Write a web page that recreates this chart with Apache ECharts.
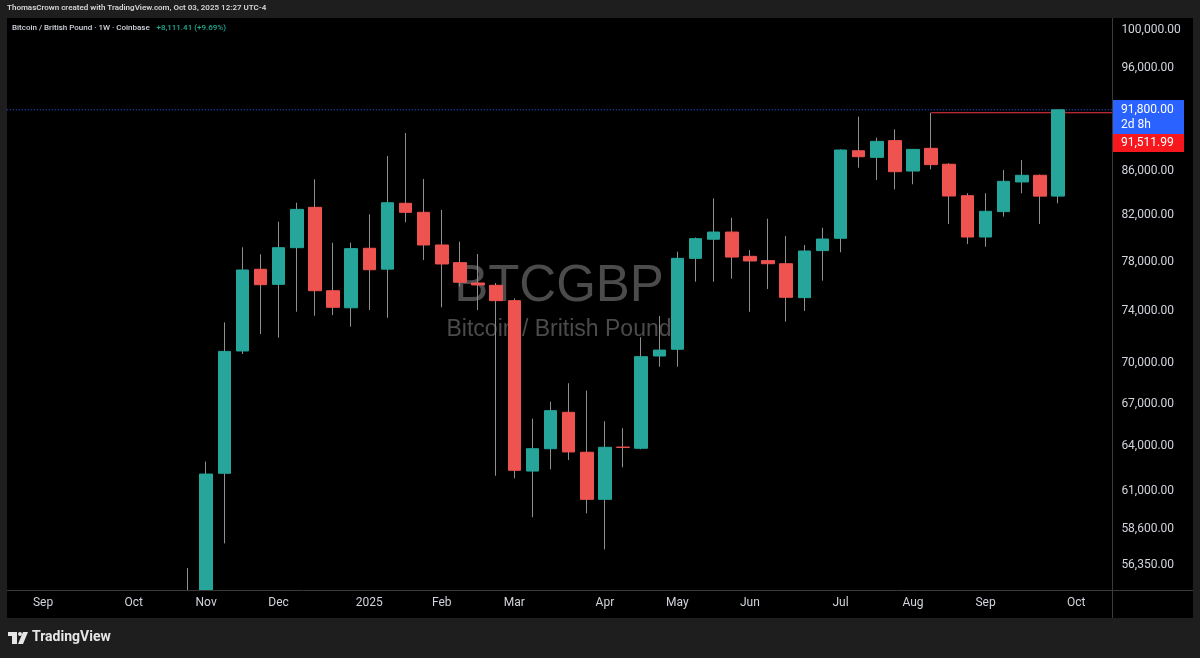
<!DOCTYPE html>
<html>
<head>
<meta charset="utf-8">
<script src="https://cdn.jsdelivr.net/npm/echarts@6/dist/echarts.min.js"></script>
<style>
  html, body { margin: 0; padding: 0; background: #1e1e1e; }
  #panel { position: absolute; left: 7px; top: 18px; width: 1186px; height: 600px; background: #000; }
  #chart { position: absolute; left: 0; top: 0; width: 1200px; height: 658px; }
</style>
</head>
<body>
<div id="panel"></div>
<div id="chart"></div>
<script>
// weekly bars (Monday of each week) shown on the time axis
const weeks = [
  '2024-08-19', '2024-08-26', '2024-09-02', '2024-09-09', '2024-09-16', '2024-09-23', '2024-09-30',
  '2024-10-07', '2024-10-14', '2024-10-21', '2024-10-28', '2024-11-04', '2024-11-11', '2024-11-18',
  '2024-11-25', '2024-12-02', '2024-12-09', '2024-12-16', '2024-12-23', '2024-12-30', '2025-01-06',
  '2025-01-13', '2025-01-20', '2025-01-27', '2025-02-03', '2025-02-10', '2025-02-17', '2025-02-24',
  '2025-03-03', '2025-03-10', '2025-03-17', '2025-03-24', '2025-03-31', '2025-04-07', '2025-04-14',
  '2025-04-21', '2025-04-28', '2025-05-05', '2025-05-12', '2025-05-19', '2025-05-26', '2025-06-02',
  '2025-06-09', '2025-06-16', '2025-06-23', '2025-06-30', '2025-07-07', '2025-07-14', '2025-07-21',
  '2025-07-28', '2025-08-04', '2025-08-11', '2025-08-18', '2025-08-25', '2025-09-01', '2025-09-08',
  '2025-09-15', '2025-09-22', '2025-09-29', '2025-10-06', '2025-10-13', '2025-10-20'
]

// first week that has a candle in view
const firstCandleWeek = '2024-10-28'

const opens = [
  52950, 53600, 62180, 70890, 77380, 76140, 79190, 82690, 75620, 74250,
  79140, 77390, 83050, 82250, 79420, 77930, 76250, 76060, 74820, 62330,
  63840, 66380, 63600, 60470, 63950, 63870, 70510, 71020, 78290, 79910,
  80530, 78460, 78100, 77840, 75060, 78940, 79990, 87860, 87240, 88820,
  85970, 88090, 86600, 83730, 80100, 82310, 84970, 85580, 83690
]
const closes = [
  53600, 62130, 70860, 77320, 76110, 79190, 82510, 75620, 74290, 79110,
  77340, 83100, 82250, 79420, 77820, 76310, 76090, 74820, 62380, 63840,
  66500, 63620, 60470, 63940, 63930, 70460, 70960, 78290, 79960, 80530,
  78400, 78070, 77840, 75090, 78910, 79930, 87930, 87300, 88750, 85910,
  87990, 86560, 83700, 80100, 82340, 85030, 85580, 83688.59, 91800
]
const lows = [
  51900, 52600, 57680, 70660, 72190, 71910, 73940, 73620, 73670, 72760,
  74080, 73460, 81380, 78150, 74290, 75950, 74080, 62020, 61850, 59320,
  62450, 63070, 59570, 57310, 62580, 63800, 69700, 69700, 76350, 76350,
  76600, 73940, 75760, 73150, 74000, 76440, 78800, 86280, 85150, 84300,
  84760, 86130, 81230, 79500, 79270, 81870, 83950, 81230, 83050
]
const highs = [
  56180, 62960, 73100, 79220, 78630, 81420, 83100, 85210, 79610, 79610,
  82080, 87370, 89550, 85240, 82460, 79700, 78660, 76250, 75010, 65930,
  67140, 68480, 67940, 65750, 65260, 71940, 73600, 78850, 80060, 83490,
  81770, 78990, 81690, 80190, 79420, 80900, 87990, 91130, 89100, 89900,
  88000, 91511.99, 86700, 83950, 83950, 86060, 87000, 85650, 91850
]

const priceTicks = [100000, 96000, 86000, 82000, 78000, 74000, 70000, 67000, 64000, 61000, 58600, 56350]
const monthNames = ['2025', 'Feb', 'Mar', 'Apr', 'May', 'Jun', 'Jul', 'Aug', 'Sep', 'Oct', 'Nov', 'Dec']

const lastPrice = 91800
const rayPrice = 91511.99
const rayStartWeek = '2025-08-11'
const countdown = '2d 8h'

const priceMin = 54870
const priceMax = 101294

const upColor = '#26a69a'
const downColor = '#ef5350'
const wickColor = '#8f8f8f'
const textColor = '#d1d4dc'
const lineColor = '#3a3a3a'
const font = 'Roboto, "Noto Sans", sans-serif'

const fmtPrice = (v) =>
  v.toLocaleString('en-US', { minimumFractionDigits: 2, maximumFractionDigits: 2 })

// log price scale: plot ln(price) on a linear axis
const lg = Math.log
const offset = weeks.indexOf(firstCandleWeek)
const wickData = weeks.map((w, i) => {
  const k = i - offset
  if (k < 0 || k >= opens.length) return '-'
  return [lg(opens[k]), lg(closes[k]), lg(lows[k]), lg(highs[k])]
})
const bodyData = weeks.map((w, i) => {
  const k = i - offset
  if (k < 0 || k >= opens.length) return '-'
  const o = lg(opens[k])
  const c = lg(closes[k])
  return [o, c, Math.min(o, c), Math.max(o, c)]
})
const lastWeek = weeks[weeks.length - 1]

const monthLabel = (v) => {
  const [y, m, d] = v.split('-').map(Number)
  if (d > 7) return ''
  if (m === 1) return String(y)
  return monthNames[m - 1]
}

const chart = echarts.init(document.getElementById('chart'))

const baseGraphics = [
  // covers so candles leaving the price pane are cut at its lower edge
  { type: 'rect', z: 10, shape: { x: 7, y: 591, width: 1105, height: 27 }, style: { fill: '#000' } },
  { type: 'rect', z: 10, shape: { x: 0, y: 618, width: 1200, height: 40 }, style: { fill: '#1e1e1e' } },
  { type: 'line', z: 11, shape: { x1: 7, y1: 590.5, x2: 1193, y2: 590.5 }, style: { stroke: lineColor, lineWidth: 1 } },
  { type: 'line', z: 11, shape: { x1: 1112.5, y1: 18, x2: 1112.5, y2: 618 }, style: { stroke: lineColor, lineWidth: 1 } },
  {
    type: 'text', left: 7, top: 4,
    style: { text: 'ThomasCrown created with TradingView.com, Oct 03, 2025 12:27 UTC-4', fill: '#d6d6d6', font: '600 8px ' + font }
  },
  {
    type: 'text', left: 12, top: 22,
    style: {
      text: '{a|Bitcoin / British Pound · 1W · Coinbase}  {b|+8,111.41 (+9.69%)}',
      rich: {
        a: { fill: textColor, font: '500 8px ' + font },
        b: { fill: '#22ab94', font: '500 8px ' + font }
      }
    }
  },
  {
    type: 'text', z: -10, x: 559, y: 287,
    style: { text: 'BTCGBP', fill: '#4b4b4b', font: '51px "Liberation Sans", Arial, sans-serif', align: 'center', verticalAlign: 'middle' }
  },
  {
    type: 'text', z: -10, x: 559, y: 330,
    style: { text: 'Bitcoin / British Pound', fill: '#4b4b4b', font: '23px "Liberation Sans", Arial, sans-serif', align: 'center', verticalAlign: 'middle' }
  },
  // TradingView logo
  { type: 'rect', z: 12, shape: { x: 8, y: 632, width: 9, height: 4 }, style: { fill: '#e6e6e6' } },
  { type: 'rect', z: 12, shape: { x: 12, y: 632, width: 5, height: 12 }, style: { fill: '#e6e6e6' } },
  { type: 'circle', z: 12, shape: { cx: 20, cy: 634, r: 2 }, style: { fill: '#e6e6e6' } },
  { type: 'polygon', z: 12, shape: { points: [[23, 632], [28, 632], [23, 644], [18, 644]] }, style: { fill: '#e6e6e6' } },
  {
    type: 'text', z: 12, left: 32, top: 630,
    style: { text: 'TradingView', fill: '#e6e6e6', font: 'bold 14px ' + font }
  }
]

chart.setOption({
  animation: false,
  grid: { left: 6.75, top: 18, width: 61 * 18.125, height: 572 },
  xAxis: {
    type: 'category',
    data: weeks,
    boundaryGap: false,
    z: 20,
    axisLine: { show: false },
    axisTick: { show: false },
    splitLine: { show: false },
    axisLabel: {
      interval: 0,
      margin: 7,
      color: textColor,
      fontSize: 12,
      fontFamily: font,
      formatter: monthLabel
    }
  },
  yAxis: {
    type: 'value',
    position: 'right',
    min: lg(priceMin),
    max: lg(priceMax),
    z: 20,
    axisLine: { show: false },
    axisTick: { show: false },
    splitLine: { show: false },
    axisLabel: {
      customValues: priceTicks.map(lg),
      margin: 9,
      color: textColor,
      fontSize: 12,
      fontFamily: font,
      formatter: (v) => fmtPrice(Math.round(Math.exp(v)))
    }
  },
  series: [
    {
      name: 'last price',
      type: 'line',
      z: 1,
      silent: true,
      showSymbol: false,
      data: [[weeks[0], lg(lastPrice)], [lastWeek, lg(lastPrice)]],
      lineStyle: { color: '#2962ff', type: [1, 2], width: 1 },
      itemStyle: { color: '#2962ff' }
    },
    {
      name: 'ray',
      type: 'line',
      z: 1,
      silent: true,
      showSymbol: false,
      data: [[rayStartWeek, lg(rayPrice)], [lastWeek, lg(rayPrice)]],
      lineStyle: { color: '#f23645', type: 'solid', width: 1 },
      itemStyle: { color: '#f23645' }
    },
    {
      name: 'wick',
      type: 'candlestick',
      data: wickData,
      barWidth: 1,
      itemStyle: { color: wickColor, color0: wickColor, borderColor: wickColor, borderColor0: wickColor, borderWidth: 1 }
    },
    {
      name: 'BTCGBP',
      type: 'candlestick',
      data: bodyData,
      barWidth: 13,
      itemStyle: { color: upColor, color0: downColor, borderColor: upColor, borderColor0: downColor, borderWidth: 1 }
    }
  ],
  graphic: baseGraphics
})

// price tags on the axis, placed from the y scale
const yLast = chart.convertToPixel({ yAxisIndex: 0 }, lg(lastPrice))
const blueTop = Math.round(yLast - 10)
const tags = [
  { type: 'rect', z: 12, shape: { x: 1113, y: blueTop, width: 71, height: 34 }, style: { fill: '#2962ff' } },
  { type: 'text', z: 13, x: 1121, y: yLast, style: { text: fmtPrice(lastPrice), fill: '#ffffff', font: '12px ' + font, verticalAlign: 'middle' } },
  { type: 'text', z: 13, x: 1121, y: yLast + 15, style: { text: countdown, fill: '#ffffff', font: '12px ' + font, verticalAlign: 'middle' } },
  { type: 'rect', z: 12, shape: { x: 1113, y: blueTop + 34, width: 71, height: 18 }, style: { fill: '#f7171d' } },
  { type: 'text', z: 13, x: 1121, y: blueTop + 43, style: { text: fmtPrice(rayPrice), fill: '#ffffff', font: '12px ' + font, verticalAlign: 'middle' } }
]
chart.setOption({ graphic: [...baseGraphics, ...tags] })
</script>
</body>
</html>
